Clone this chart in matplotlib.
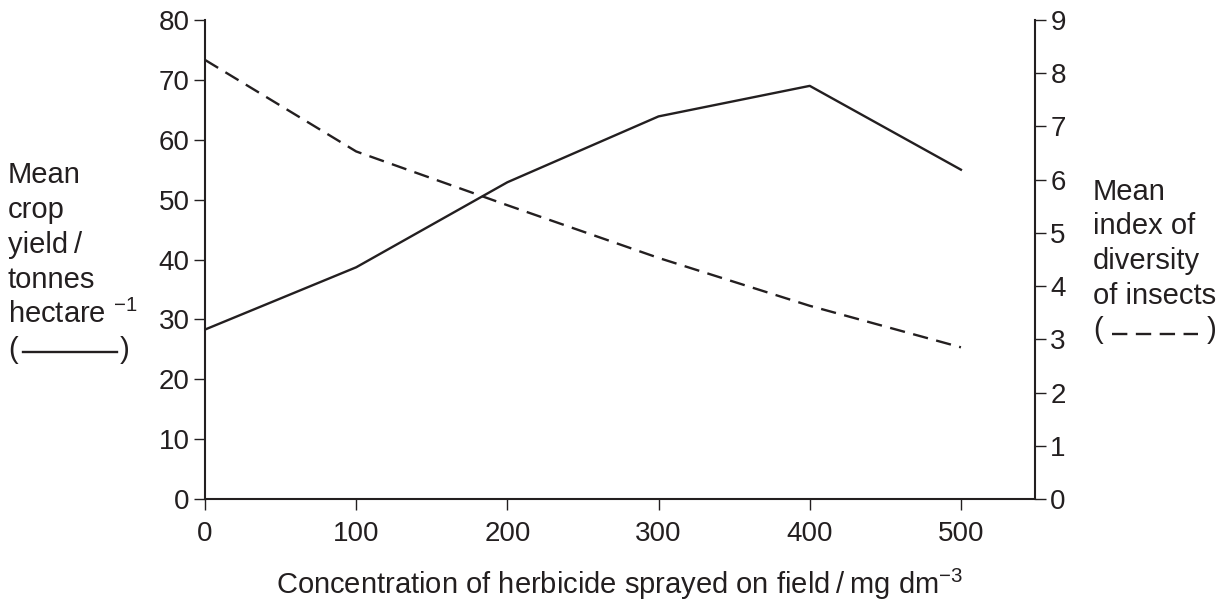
import matplotlib
matplotlib.use("Agg")
import matplotlib.pyplot as plt
from matplotlib.lines import Line2D

plt.rcParams["font.family"] = ["Liberation Sans", "DejaVu Sans"]
plt.rcParams["mathtext.fontset"] = "custom"
plt.rcParams["mathtext.rm"] = "Liberation Sans"
plt.rcParams["mathtext.it"] = "Liberation Sans"

ink = "#231f20"
W, H = 1227, 602

# herbicide concentration / mg dm-3
conc = [0, 100, 200, 300, 400, 500]
# mean crop yield / tonnes hectare-1 (solid line, left axis)
crop_yield = [28.3, 38.7, 52.9, 63.9, 69.0, 55.0]
# mean index of diversity of insects (dashed line, right axis)
diversity = [8.25, 6.53, 5.52, 4.53, 3.63, 2.85]

left_ticks = list(range(0, 81, 10))
right_ticks = list(range(0, 10))
x_ticks = [0, 100, 200, 300, 400, 500]

left_title = ["Mean", "crop", "yield\u2009/", "tonnes", "hectare $^{\u22121}$", "("]
right_title = ["Mean", "index of", "diversity", "of insects", "("]
x_title = "Concentration of herbicide sprayed on field\u2009/\u2009mg dm$^{\u22123}$"

dash = (0, (6.5, 3.6))

fig = plt.figure(figsize=(W / 100, H / 100), dpi=100)
ax = fig.add_axes([205 / W, 1 - 499 / H, 830 / W, 479 / H])
ax2 = ax.twinx()

ax.plot(conc, crop_yield, color=ink, lw=1.7)
ax2.plot(conc, diversity, color=ink, lw=1.7, linestyle=dash)

ax.set_xlim(0, 549)
ax.set_ylim(0, 80)
ax2.set_ylim(0, 9)
ax.set_xticks(x_ticks)
ax.set_yticks(left_ticks)
ax2.set_yticks(right_ticks)

for a in (ax, ax2):
    a.spines["top"].set_visible(False)
    for s in ("left", "right", "bottom"):
        a.spines[s].set_linewidth(1.5)
        a.spines[s].set_color(ink)
    a.tick_params(labelsize=20, length=8, width=1, color=ink, labelcolor=ink, pad=3)
ax2.spines["left"].set_visible(False)
ax2.spines["bottom"].set_visible(False)
ax.spines["right"].set_visible(False)
ax.tick_params(axis="x", pad=8)

fs = 21
fig.text(620 / W, 1 - 594 / H, x_title, fontsize=fs, color=ink, ha="center", va="baseline")

# left axis title, one line at a time
for i, line in enumerate(left_title):
    fig.text(8 / W, 1 - (183 + 35 * i) / H, line, fontsize=fs, color=ink, va="baseline")
fig.text(120 / W, 1 - 358 / H, ")", fontsize=fs, color=ink, va="baseline")
fig.add_artist(Line2D([23 / W, 117 / W], [1 - 352 / H] * 2, color=ink, lw=1.7,
                      transform=fig.transFigure))

# right axis title
for i, line in enumerate(right_title):
    fig.text(1093 / W, 1 - (200 + 34.5 * i) / H, line, fontsize=fs, color=ink, va="baseline")
fig.text(1207 / W, 1 - 338 / H, ")", fontsize=fs, color=ink, va="baseline")
fig.add_artist(Line2D([1112 / W, 1198 / W], [1 - 334 / H] * 2, color=ink, lw=1.7,
                      linestyle=dash, transform=fig.transFigure))

fig.savefig("out.png", dpi=100)
